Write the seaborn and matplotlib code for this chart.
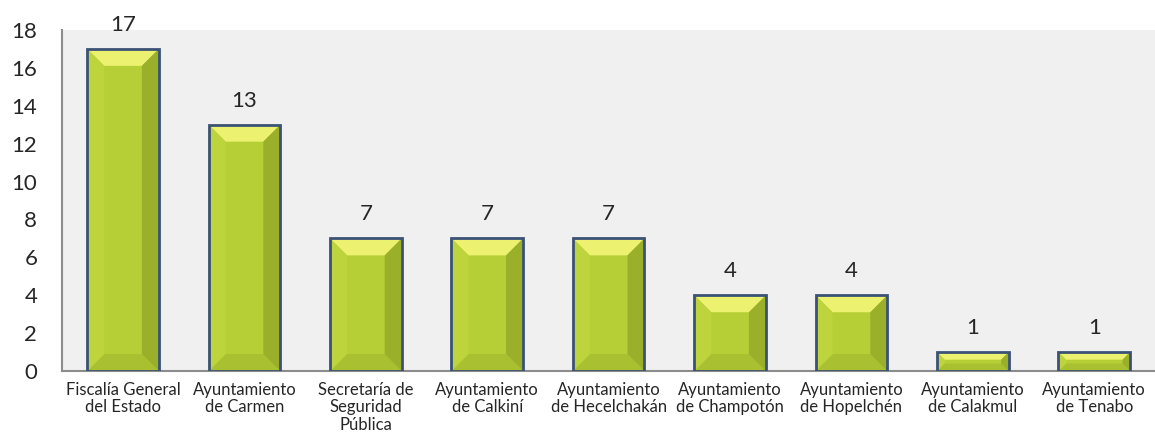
import matplotlib
matplotlib.use("Agg")
import matplotlib.pyplot as plt
import seaborn as sns
import pandas as pd
from matplotlib.patches import Polygon, Rectangle

# datos del grafico
categorias = [
    "Fiscalía General\ndel Estado",
    "Ayuntamiento\nde Carmen",
    "Secretaría de\nSeguridad\nPública",
    "Ayuntamiento\nde Calkiní",
    "Ayuntamiento\nde Hecelchakán",
    "Ayuntamiento\nde Champotón",
    "Ayuntamiento\nde Hopelchén",
    "Ayuntamiento\nde Calakmul",
    "Ayuntamiento\nde Tenabo",
]
valores = [17, 13, 7, 7, 7, 4, 4, 1, 1]
y_ticks = [0, 2, 4, 6, 8, 10, 12, 14, 16, 18]

df = pd.DataFrame({"categoria": categorias, "valor": valores})

sns.set_theme(style="white")
plt.rcParams["font.family"] = ["Lato", "DejaVu Sans"]

fig, ax = plt.subplots(figsize=(11.55, 4.46), dpi=100)
fig.subplots_adjust(left=0.054, right=1.0, top=0.933, bottom=0.168)
ax.set_facecolor("#f0f0f0")

sns.barplot(data=df, x="categoria", y="valor", color="#b6cf36", saturation=1,
            width=0.59, edgecolor="none", ax=ax, zorder=2)

ax.set_ylim(0, 18)
ax.set_xlim(-0.5, len(categorias) - 0.5)
ax.set_yticks(y_ticks)
ax.set_xlabel("")
ax.set_ylabel("")

# efecto biselado en cada barra
px_x = ax.transData.transform((1, 0))[0] - ax.transData.transform((0, 0))[0]
px_y = ax.transData.transform((0, 1))[1] - ax.transData.transform((0, 0))[1]
for p in ax.patches:
    x0, y0 = p.get_x(), p.get_y()
    x1, y1 = x0 + p.get_width(), y0 + p.get_height()
    b = min(17, p.get_height() * px_y * 0.4)
    bx, by = b / px_x, b / px_y
    caras = [
        ([(x0, y1), (x1, y1), (x1 - bx, y1 - by), (x0 + bx, y1 - by)], "#ecf270"),
        ([(x0, y0), (x1, y0), (x1 - bx, y0 + by), (x0 + bx, y0 + by)], "#a9c030"),
        ([(x0, y0), (x0, y1), (x0 + bx, y1 - by), (x0 + bx, y0 + by)], "#bdd43c"),
        ([(x1, y0), (x1, y1), (x1 - bx, y1 - by), (x1 - bx, y0 + by)], "#9ab02b"),
    ]
    for pts, c in caras:
        ax.add_patch(Polygon(pts, closed=True, facecolor=c, edgecolor="none", zorder=3))
    ax.add_patch(Rectangle((x0, y0), x1 - x0, y1 - y0, fill=False,
                           edgecolor="#3b5276", linewidth=2, zorder=4))

for cont in ax.containers:
    ax.bar_label(cont, labels=[str(v) for v in valores], padding=10, fontsize=16)

ax.tick_params(axis="y", length=0, pad=18, labelsize=16)
ax.tick_params(axis="x", length=0, pad=8, labelsize=12)
for lbl in ax.get_xticklabels():
    lbl.set_multialignment("center")
    lbl.set_linespacing(1.1)

for s in ["top", "right"]:
    ax.spines[s].set_visible(False)
for s in ["left", "bottom"]:
    ax.spines[s].set_color("#8c8c8c")
    ax.spines[s].set_linewidth(1.5)
ax.grid(False)

fig.savefig("out.png", dpi=100, facecolor="white")
